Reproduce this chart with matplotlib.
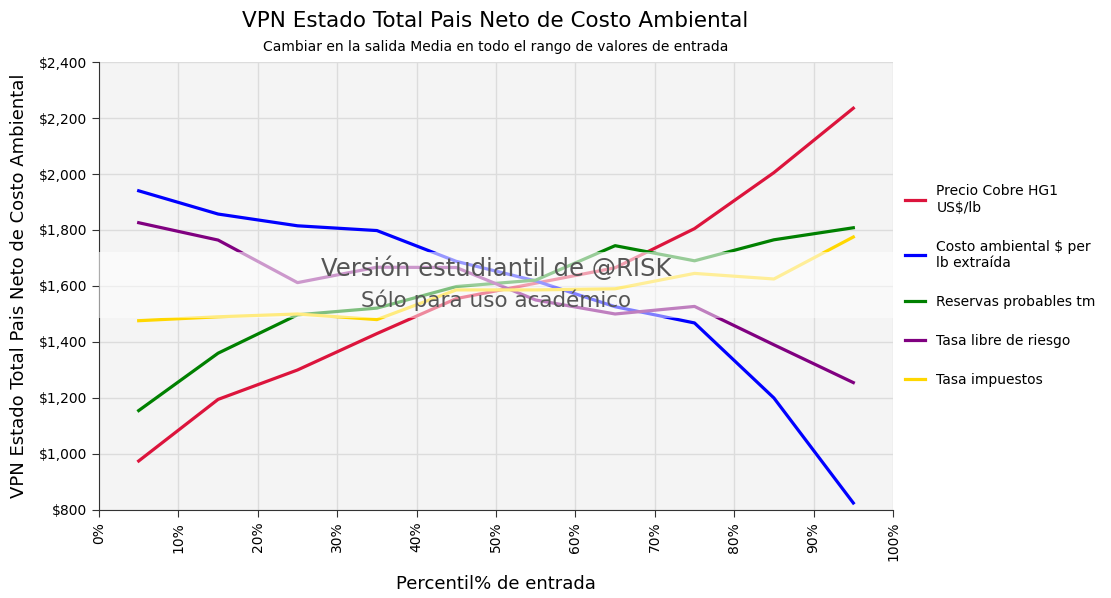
import matplotlib.pyplot as plt
from matplotlib.ticker import FuncFormatter, MultipleLocator

# Percentiles de entrada (centro de cada rango)
percentiles = [5, 15, 25, 35, 45, 55, 65, 75, 85, 95]

precio_cobre = [975, 1195, 1300, 1430, 1555, 1610, 1665, 1805, 2005, 2235]
costo_ambiental = [1940, 1857, 1815, 1798, 1688, 1618, 1526, 1468, 1200, 825]
reservas = [1155, 1360, 1497, 1521, 1598, 1621, 1744, 1690, 1765, 1808]
tasa_libre = [1826, 1764, 1612, 1667, 1666, 1550, 1500, 1527, 1390, 1255]
tasa_impuestos = [1476, 1490, 1500, 1480, 1586, 1586, 1590, 1645, 1625, 1775]

series = [
    ("Precio Cobre HG1\nUS$/lb", precio_cobre, "#dc143c"),
    ("Costo ambiental $ per\nlb extraída", costo_ambiental, "#0000ff"),
    ("Reservas probables tm", reservas, "#008000"),
    ("Tasa libre de riesgo", tasa_libre, "#800080"),
    ("Tasa impuestos", tasa_impuestos, "#ffd700"),
]

fig = plt.figure(figsize=(11.11, 5.98), dpi=100)
ax = fig.add_axes([0.0891, 0.1472, 0.7147, 0.7491])
ax.set_facecolor("#f4f4f4")

for nombre, valores, color in series:
    ax.plot(percentiles, valores, color=color, lw=2.3, label=nombre, zorder=3)

ax.set_xlim(0, 100)
ax.set_ylim(800, 2400)
ax.xaxis.set_major_locator(MultipleLocator(10))
ax.yaxis.set_major_locator(MultipleLocator(200))
ax.xaxis.set_major_formatter(FuncFormatter(lambda v, p: f"{v:.0f}%"))
ax.yaxis.set_major_formatter(FuncFormatter(lambda v, p: f"${v:,.0f}"))
ax.tick_params(axis="x", rotation=90, labelsize=10, length=5, color="#333333")
ax.tick_params(axis="y", labelsize=10, length=5, color="#333333")
ax.grid(True, color="#dcdcdc", lw=1)
ax.set_axisbelow(True)
for lado in ["top", "right"]:
    ax.spines[lado].set_visible(False)
for lado in ["left", "bottom"]:
    ax.spines[lado].set_color("#333333")

# Marca de agua
ax.axhspan(1600, 1721, color="white", alpha=0.6, lw=0, zorder=4)
ax.axhspan(1486, 1600, color="white", alpha=0.5, lw=0, zorder=4)
ax.text(50, 1662, "Versión estudiantil de @RISK", ha="center", va="center",
        fontsize=17.5, color="#555555", zorder=5)
ax.text(50, 1548, "Sólo para uso académico", ha="center", va="center",
        fontsize=15.5, color="#555555", zorder=5)

ax.set_xlabel("Percentil% de entrada", fontsize=13, labelpad=10)
ax.set_ylabel("VPN Estado Total Pais Neto de Costo Ambiental", fontsize=13, labelpad=8)

fig.text(0.446, 0.965, "VPN Estado Total Pais Neto de Costo Ambiental",
         ha="center", va="center", fontsize=15.5)
fig.text(0.446, 0.922, "Cambiar en la salida Media en todo el rango de valores de entrada",
         ha="center", va="center", fontsize=10)

ax.legend(loc="upper left", bbox_to_anchor=(0.99, 0.77), frameon=False,
          fontsize=10, handlelength=1.5, labelspacing=1.8, borderaxespad=1.0)

fig.savefig("out.png", dpi=100)
